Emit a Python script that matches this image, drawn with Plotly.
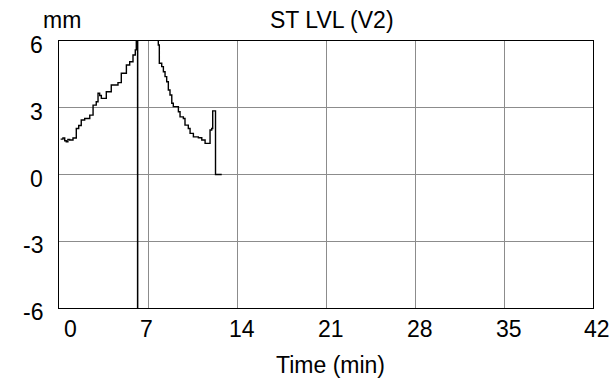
import plotly.graph_objects as go

# ST level trace (minutes, mm)
time_min = [0.13, 0.31, 0.45, 0.57, 0.70, 0.84, 1.10, 1.36, 1.55, 1.75, 2.02, 2.42, 2.68, 2.93,
            3.07, 3.20, 3.33, 3.72, 4.11, 4.64, 4.90, 5.30, 5.56, 5.82, 6.00, 6.08, 6.18, 6.19,
            7.69, 7.81, 7.89, 8.08, 8.21, 8.34, 8.47, 8.60, 8.73, 8.87, 8.99, 9.39, 9.52, 9.78,
            9.91, 10.17, 10.31, 10.57, 10.96, 11.23, 11.49, 11.80, 11.88, 12.01, 12.09, 12.27,
            12.31, 12.80]
st_mm = [1.59, 1.64, 1.52, 1.47, 1.58, 1.55, 1.64, 2.07, 2.20, 2.45, 2.52, 2.67, 3.12, 3.27,
         3.65, 3.55, 3.42, 3.72, 4.02, 4.13, 4.55, 4.92, 5.07, 5.37, 5.60, 6.60, -7.00, 6.60,
         6.60, 5.82, 5.00, 4.85, 4.62, 4.40, 4.17, 3.80, 3.57, 3.20, 3.05, 2.82, 2.59, 2.52,
         2.22, 2.07, 1.85, 1.69, 1.65, 1.55, 1.40, 1.40, 2.00, 2.07, 2.86, 2.86,
         0.00, 0.00]

x_ticks = [0, 7, 14, 21, 28, 35, 42]
x_tick_labels = ["0", "7", "14", "21", "28", "35", "42"]
y_ticks = [6, 3, 0, -3, -6]
y_tick_labels = ["6", "3", "0", "-3", "-6"]

title_text = "ST LVL (V2)"
y_unit = "mm"
x_title = "Time (min)"

FONT = "Liberation Sans, Arial, sans-serif"
FS = 23
GRID = "#8c8c8c"

fig = go.Figure()
fig.add_trace(go.Scatter(x=time_min, y=st_mm, mode="lines",
                         line=dict(color="black", width=1.4, shape="hv"),
                         hoverinfo="skip", showlegend=False))

annotations = []
x_shift = [11, -2, 5, 5, 5, 5, 4]
for v, lab, s in zip(x_ticks, x_tick_labels, x_shift):
    annotations.append(dict(x=v, y=0, xref="x", yref="paper", text=lab, showarrow=False,
                            xanchor="center", yanchor="middle", xshift=s, yshift=-21,
                            font=dict(family=FONT, size=FS, color="black")))
for v, lab in zip(y_ticks, y_tick_labels):
    annotations.append(dict(x=0, y=v, xref="paper", yref="y", text=lab, showarrow=False,
                            xanchor="right", yanchor="middle", xshift=-14, yshift=-4,
                            font=dict(family=FONT, size=FS, color="black")))
annotations.append(dict(x=0, y=1, xref="paper", yref="paper", text=y_unit, showarrow=False,
                        xanchor="center", yanchor="middle", xshift=3, yshift=21,
                        font=dict(family=FONT, size=FS)))
annotations.append(dict(x=0.5, y=1, xref="paper", yref="paper", text=title_text, showarrow=False,
                        xanchor="center", yanchor="middle", xshift=6, yshift=21,
                        font=dict(family=FONT, size=FS)))
annotations.append(dict(x=0.5, y=0, xref="paper", yref="paper", text=x_title, showarrow=False,
                        xanchor="center", yanchor="middle", xshift=4, yshift=-57,
                        font=dict(family=FONT, size=FS)))

fig.update_layout(
    width=616, height=384,
    margin=dict(l=59, r=23, t=41, b=76),
    paper_bgcolor="white", plot_bgcolor="white",
    font=dict(family=FONT, size=FS, color="black"),
    xaxis=dict(range=[0, 42], tickvals=x_ticks, showticklabels=False, ticks="",
               showgrid=True, gridcolor=GRID, gridwidth=1, zeroline=False,
               showline=True, linecolor="black", linewidth=1, mirror=True, fixedrange=True),
    yaxis=dict(range=[-6, 6], tickvals=y_ticks, showticklabels=False, ticks="",
               showgrid=True, gridcolor=GRID, gridwidth=1, zeroline=False,
               showline=True, linecolor="black", linewidth=1, mirror=True, fixedrange=True),
    annotations=annotations,
)
fig.write_html("out.html", config={"displayModeBar": False},
               post_script="document.body.style.margin='0';document.body.style.overflow='hidden';")
